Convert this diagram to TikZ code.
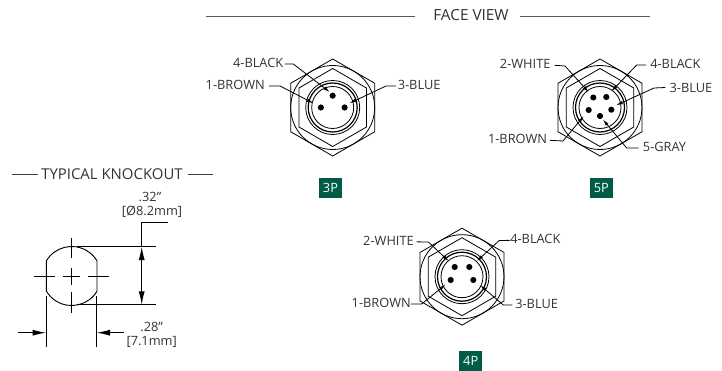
\documentclass[tikz,border=0pt]{standalone}
\usepackage{fontspec}
\setmainfont{Open Sans}[Scale=1]
\usetikzlibrary{arrows.meta}
\definecolor{ink}{HTML}{333333}
\definecolor{badgegreen}{HTML}{005C46}
\tikzset{
  part/.style={line width=0.6pt,black},
  lbl/.style={font=\fontsize{9.6}{11}\selectfont,text=ink,inner sep=0pt},
  ttl/.style={font=\fontsize{11.5}{13}\selectfont,text=ink,inner sep=0pt},
  ttlsmall/.style={font=\fontsize{11.2}{13}\selectfont,text=ink,inner sep=0pt},
  rule/.style={line width=1.1pt,black!65},
  thinrule/.style={line width=0.8pt,black!75},
  leader/.style={line width=0.6pt,black,-{Latex[length=5pt,width=2.6pt]},shorten >=-0.5pt},
  dim/.style={line width=0.7pt,black},
  dimtip/.style={line width=0.7pt,black,-{Latex[length=10pt,width=4.5pt]}},
  pin/.style={circle,fill=black,inner sep=0pt,minimum size=4.6pt},
  badge/.style={fill=badgegreen,text=white,font=\fontsize{9.6}{11}\selectfont,inner sep=0pt,minimum width=17pt,minimum height=14.5pt},
}
\newcommand{\connbody}[2]{%
  \begin{scope}[shift={(#1,#2)}]
    \draw[part] (90:48.5)--(30:48.5)--(-30:48.5)--(-90:48.5)--(-150:48.5)--(150:48.5)--cycle;
    \draw[part] (90:39)--(30:39)--(-30:39)--(-90:39)--(-150:39)--(150:39)--cycle;
    \draw[part] (0,0) circle (42);
    \draw[part] (0,0) circle (27);
    \draw[line width=0.9pt] (0,0) circle (24.5);
    \draw[part] (0,0) circle (21);
  \end{scope}}
\begin{document}
\begin{tikzpicture}[x=0.75pt,y=-0.75pt]
\useasboundingbox[fill=white] (0,0) rectangle (722,371);
% FACE VIEW
\node[ttl] (face) at (471,15) {FACE VIEW};
\coordinate (faceL) at (205.5,16.7); \coordinate (faceLi) at (415,16.7);
\coordinate (faceRi) at (520,16.7); \coordinate (faceR) at (650,16.7);
\draw[rule] (faceL) -- (faceLi);
\draw[rule] (faceRi) -- (faceR);
% 3P
\connbody{332.7}{107.5}
\node[pin] (a1) at (320.9,107.5) {};
\node[pin] (a2) at (332.7,95.7) {};
\node[pin] (a3) at (344.6,107.5) {};
\node[lbl,anchor=east] (a1l) at (265,85) {1-BROWN};
\node[lbl,anchor=east] (a4l) at (283.5,63) {4-BLACK};
\node[lbl,anchor=west] (a3l) at (397.5,85) {3-BLUE};
\coordinate (a1e) at (280,86); \coordinate (a1t) at (313,103);
\coordinate (a4e) at (293.3,64); \coordinate (a4t) at (329.3,91.7);
\coordinate (a3e) at (386,86); \coordinate (a3t) at (350,103);
\draw[leader] ([xshift=3pt,yshift=-0.7pt]a1l.east) -- (a1e) -- (a1t);
\draw[leader] ([xshift=1pt,yshift=-0.7pt]a4l.east) -- (a4e) -- (a4t);
\draw[leader] ([xshift=-1pt,yshift=-0.7pt]a3l.west) -- (a3e) -- (a3t);
\node[badge] (b3) at (330.5,188) {3P};
% 5P
\connbody{600}{107.5}
\node[pin] (c2) at (593.3,97.5) {};
\node[pin] (c4) at (606.3,97) {};
\node[pin] (c1) at (588.7,110) {};
\node[pin] (c3) at (611.3,109.7) {};
\node[pin] (c5) at (600,116) {};
\node[lbl,anchor=east] (c2l) at (550.7,64) {2-WHITE};
\node[lbl,anchor=west] (c4l) at (650,64) {4-BLACK};
\node[lbl,anchor=west] (c3l) at (669.3,87.5) {3-BLUE};
\node[lbl,anchor=east] (c1l) at (547.3,139) {1-BROWN};
\node[lbl,anchor=west] (c5l) at (642.7,147) {5-GRAY};
\coordinate (c2e) at (565,66); \coordinate (c2t) at (588.3,91.7);
\coordinate (c4e) at (636.7,65); \coordinate (c4t) at (611.7,91);
\coordinate (c3e) at (654,88); \coordinate (c3t) at (616.7,105);
\coordinate (c1e) at (563,141); \coordinate (c1t) at (583.3,116.7);
\coordinate (c5e) at (626.7,148); \coordinate (c5t) at (603.3,120);
\draw[leader] ([xshift=3pt,yshift=-1pt]c2l.east) -- (c2e) -- (c2t);
\draw[leader] ([xshift=-3pt,yshift=-0.7pt]c4l.west) -- (c4e) -- (c4t);
\draw[leader] ([xshift=-3pt]c3l.west) -- (c3e) -- (c3t);
\draw[leader] ([xshift=2pt,yshift=-1pt]c1l.east) -- (c1e) -- (c1t);
\draw[leader] ([xshift=-3pt,yshift=-0.7pt]c5l.west) -- (c5e) -- (c5t);
\node[badge] (b5) at (601.3,188) {5P};
% 4P
\connbody{462}{276.7}
\node[pin] (d2) at (454.7,267) {};
\node[pin] (d4) at (469.3,267) {};
\node[pin] (d1) at (450.7,280) {};
\node[pin] (d3) at (473.3,280) {};
\node[lbl,anchor=east] (d2l) at (414,240.5) {2-WHITE};
\node[lbl,anchor=west] (d4l) at (510,239) {4-BLACK};
\node[lbl,anchor=east] (d1l) at (411,303) {1-BROWN};
\node[lbl,anchor=west] (d3l) at (515,304) {3-BLUE};
\coordinate (d2e) at (428.3,242); \coordinate (d2t) at (448.3,260.7);
\coordinate (d4e) at (499.3,240.5); \coordinate (d4t) at (477.3,260.7);
\coordinate (d1e) at (421.7,304); \coordinate (d1t) at (445,285);
\coordinate (d3e) at (503.3,305); \coordinate (d3t) at (480.7,285.7);
\draw[leader] ([xshift=2pt,yshift=-1pt]d2l.east) -- (d2e) -- (d2t);
\draw[leader] ([yshift=-1pt]d4l.west) -- (d4e) -- (d4t);
\draw[leader] ([yshift=-0.7pt]d1l.east) -- (d1e) -- (d1t);
\draw[leader] ([xshift=-2pt,yshift=-0.7pt]d3l.west) -- (d3e) -- (d3t);
\node[badge] (b4) at (470.7,361) {4P};
% Knockout
\node[ttlsmall,anchor=west] (tk) at (41,174) {TYPICAL KNOCKOUT};
\coordinate (tkL) at (11.7,174.5); \coordinate (tkLi) at (38.3,174.5);
\coordinate (tkRi) at (187.7,174.5); \coordinate (tkR) at (213,174.5);
\draw[thinrule] (tkL) -- (tkLi);
\draw[thinrule] (tkRi) -- (tkR);
\draw[dim] (46.4,260.8) arc[start angle=-149,end angle=-31,radius=29.5] -- (97,291.2)
  arc[start angle=31,end angle=149,radius=29.5] -- cycle;
\draw[dim] (71.7,238.3)--(71.7,258.3) (71.7,268.3)--(71.7,285) (71.7,291.7)--(71.7,312.7);
\draw[dim] (34,276)--(55,276) (63.3,276)--(80,276) (88.3,276)--(109,276);
\coordinate (extT) at (77,246.7); \coordinate (extTe) at (156,246.7);
\coordinate (extB) at (77,304.7); \coordinate (extBe) at (156,304.7);
\coordinate (dimTop) at (141.7,222.7); \coordinate (dimTopE) at (167.7,222.7);
\coordinate (dimT) at (141.7,246.7); \coordinate (dimB) at (141.7,304.7);
\coordinate (dimM) at (141.7,275);
\draw[dim] (extT)--(extTe) (extB)--(extBe);
\draw[dim] (dimTopE)--(dimTop)--(dimT);
\draw[dimtip] (dimM)--(dimT);
\draw[dimtip] (dimM)--(dimB);
\coordinate (lx1) at (46,296); \coordinate (lx1e) at (46,346.7);
\coordinate (lx2) at (96.7,296); \coordinate (lx2e) at (96.7,346.7);
\draw[dim] (lx1)--(lx1e) (lx2)--(lx2e);
\coordinate (la1) at (18.3,332.7); \coordinate (la1t) at (46,332.7);
\coordinate (la2) at (124,332.7); \coordinate (la2t) at (96.7,332.7);
\draw[dimtip] (la1)--(la1t);
\draw[dimtip] (la2)--(la2t);
\node[lbl] (d32) at (150,197) {.32"};
\node[lbl] (d82) at (152,211.5) {[Ø8.2mm]};
\node[lbl] (d28) at (151.7,327) {.28"};
\node[lbl] (d71) at (151.7,341.5) {[7.1mm]};
\end{tikzpicture}
\end{document}
